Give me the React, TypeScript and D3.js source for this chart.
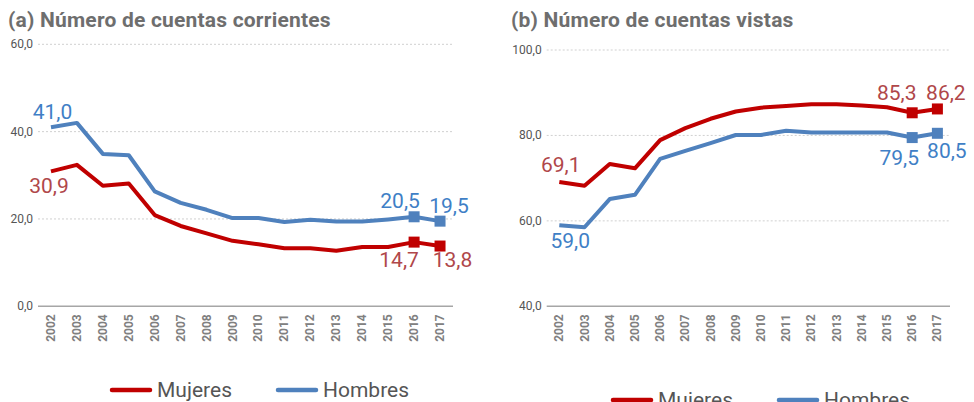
import React from "react";
import * as d3 from "d3";

const years = ["2002","2003","2004","2005","2006","2007","2008","2009","2010","2011","2012","2013","2014","2015","2016","2017"];
const corrMujeres = [30.9,32.4,27.6,28.1,20.9,18.4,16.7,15.0,14.2,13.3,13.3,12.7,13.6,13.6,14.7,13.8];
const corrHombres = [41.0,42.0,34.9,34.6,26.3,23.7,22.1,20.2,20.2,19.3,19.8,19.4,19.4,19.9,20.5,19.5];
const vistMujeres = [69.1,68.2,73.3,72.3,78.9,81.7,83.9,85.6,86.5,86.9,87.3,87.3,87.0,86.6,85.3,86.2];
const vistHombres = [59.0,58.5,65.1,66.1,74.5,76.4,78.2,80.1,80.1,81.1,80.7,80.7,80.7,80.7,79.5,80.5];
const ticksA = [0,20,40,60];
const ticksB = [40,60,80,100];
const titleA = "(a) Número de cuentas corrientes";
const titleB = "(b) Número de cuentas vistas";
const seriesNames = ["Mujeres","Hombres"];

const RED = "#c00000";
const BLUE = "#4f81bd";
const RED_T = "#b0474a";
const BLUE_T = "#3f7fc6";
const FONT = "Roboto, 'DejaVu Sans', sans-serif";

const fmt = (v: number) => v.toFixed(1).replace(".", ",");

type PanelProps = {
  title: string; titleX: number;
  x0: number; x1: number; yTop: number; yBot: number;
  domain: [number, number]; ticks: number[];
  muj: number[]; hom: number[];
  labels: { s: "m" | "h"; i: number; dx: number; dy: number }[];
  legendY: number; legendX: number;
};

function Panel(p: PanelProps) {
  const x = d3.scaleBand().domain(years).range([p.x0, p.x1]);
  const y = d3.scaleLinear().domain(p.domain).range([p.yBot, p.yTop]);
  const cx = (d: string) => (x(d) as number) + x.bandwidth() / 2;
  const line = d3.line<number>().x((_, i) => cx(years[i])).y((v) => y(v));
  const series = { m: p.muj, h: p.hom };
  return (
    <g>
      <text x={p.titleX} y={27} fontFamily={FONT} fontWeight={700} fontSize={21} letterSpacing={0.2} fill="#6e6e6e">{p.title}</text>
      {p.ticks.map((t, i) => (
        <g key={t}>
          <line x1={p.x0} x2={p.x1} y1={y(t)} y2={y(t)}
            stroke={i === 0 ? "#a6a6a6" : "#d0d0d0"} strokeWidth={i === 0 ? 1.5 : 1}
            strokeDasharray={i === 0 ? undefined : "2,2"} />
          <text x={p.x0 - 5} y={y(t) + 4} textAnchor="end" fontFamily={FONT} fontSize={12} fill="#555">{fmt(t)}</text>
        </g>
      ))}
      {years.map((yr) => (
        <text key={yr} transform={`translate(${cx(yr) + 4},${p.yBot + 8}) rotate(-90)`} textAnchor="end"
          fontFamily={FONT} fontWeight={700} fontSize={12} fill="#808080">{yr}</text>
      ))}
      <path d={line(p.hom) || ""} fill="none" stroke={BLUE} strokeWidth={4} strokeLinejoin="round" />
      <path d={line(p.muj) || ""} fill="none" stroke={RED} strokeWidth={4} strokeLinejoin="round" />
      {[14, 15].map((i) => (
        <g key={i}>
          <rect x={cx(years[i]) - 5.5} y={y(p.hom[i]) - 5.5} width={11} height={11} fill={BLUE} />
          <rect x={cx(years[i]) - 5.5} y={y(p.muj[i]) - 5.5} width={11} height={11} fill={RED} />
        </g>
      ))}
      {p.labels.map((l, k) => {
        const v = series[l.s][l.i];
        return (
          <text key={k} x={cx(years[l.i]) + l.dx} y={y(v) + l.dy} textAnchor="middle"
            fontFamily={FONT} fontSize={21} fill={l.s === "m" ? RED_T : BLUE_T}>{fmt(v)}</text>
        );
      })}
      <line x1={p.legendX} x2={p.legendX + 38} y1={p.legendY} y2={p.legendY} stroke={RED} strokeWidth={4.5} strokeLinecap="round" />
      <text x={p.legendX + 45} y={p.legendY + 7} fontFamily={FONT} fontSize={21} fill="#555">{seriesNames[0]}</text>
      <line x1={p.legendX + 166} x2={p.legendX + 204} y1={p.legendY} y2={p.legendY} stroke={BLUE} strokeWidth={4.5} strokeLinecap="round" />
      <text x={p.legendX + 211} y={p.legendY + 7} fontFamily={FONT} fontSize={21} fill="#555">{seriesNames[1]}</text>
    </g>
  );
}

export default function App() {
  return (
    <div style={{ position: "absolute", left: 0, top: 0 }}>
      <svg width={974} height={402} style={{ display: "block", background: "#fff" }}>
        <Panel title={titleA} titleX={8} x0={38} x1={453} yTop={44.3} yBot={306.3} domain={[0, 60]} ticks={ticksA}
          muj={corrMujeres} hom={corrHombres}
          labels={[
            { s: "h", i: 0, dx: 1.5, dy: -8 },
            { s: "m", i: 0, dx: -2, dy: 22 },
            { s: "h", i: 14, dx: -14, dy: -8.5 },
            { s: "h", i: 15, dx: 9, dy: -8 },
            { s: "m", i: 14, dx: -15, dy: 25 },
            { s: "m", i: 15, dx: 12.5, dy: 21 },
          ]}
          legendX={112} legendY={390} />
        <Panel title={titleB} titleX={511} x0={546.7} x1={950} yTop={50} yBot={306.3} domain={[40, 100]} ticks={ticksB}
          muj={vistMujeres} hom={vistHombres}
          labels={[
            { s: "m", i: 0, dx: 1.5, dy: -10 },
            { s: "h", i: 0, dx: 11, dy: 23 },
            { s: "m", i: 14, dx: -15.5, dy: -13 },
            { s: "m", i: 15, dx: 8.5, dy: -9 },
            { s: "h", i: 14, dx: -13, dy: 27.5 },
            { s: "h", i: 15, dx: 9.5, dy: 25 },
          ]}
          legendX={613} legendY={400} />
      </svg>
    </div>
  );
}
